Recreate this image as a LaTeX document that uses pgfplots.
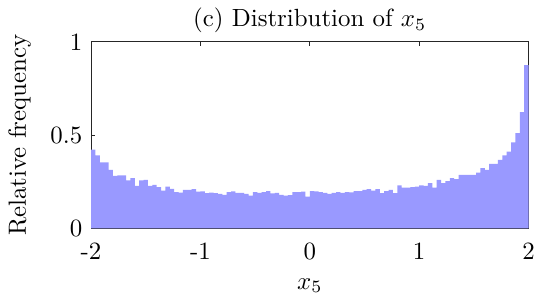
\documentclass[border=0pt]{standalone}
\usepackage{pgfplots}
\pgfplotsset{compat=1.18}
\definecolor{histfill}{RGB}{153,153,255}
\definecolor{axgray}{RGB}{38,38,38}

\begin{document}
\begin{tikzpicture}
\begin{axis}[
  scale only axis, width=176pt, height=75pt,
  xmin=-2, xmax=2, ymin=0, ymax=1,
  xtick={-2,-1,0,1,2}, xticklabels={-2,-1,0,1,2},
  ytick={0,0.5,1}, yticklabels={0,0.5,1},
  tick align=inside, major tick length=1.8pt,
  axis line style={axgray, line width=0.4pt}, tick style={axgray, line width=0.4pt},
  xticklabel style={yshift=-2.3pt},
  title={(c) Distribution of $x_5$},
  title style={yshift=-6pt},
  xlabel={$x_5$}, ylabel={Relative frequency},
  xlabel style={yshift=-0.6pt}, ylabel style={yshift=1pt},
]
\addplot[ybar interval, fill=histfill, draw=none] coordinates {
(-2.00,0.422) (-1.96,0.391) (-1.92,0.354) (-1.88,0.354) (-1.84,0.314)
(-1.80,0.282) (-1.76,0.284) (-1.72,0.284) (-1.68,0.257) (-1.64,0.269)
(-1.60,0.228) (-1.56,0.257) (-1.52,0.260) (-1.48,0.228) (-1.44,0.233)
(-1.40,0.221) (-1.36,0.203) (-1.32,0.224) (-1.28,0.212) (-1.24,0.194)
(-1.20,0.192) (-1.16,0.206) (-1.12,0.206) (-1.08,0.210) (-1.04,0.197)
(-1.00,0.199) (-0.96,0.189) (-0.92,0.192) (-0.88,0.189) (-0.84,0.185)
(-0.80,0.180) (-0.76,0.195) (-0.72,0.198) (-0.68,0.190) (-0.64,0.190)
(-0.60,0.185) (-0.56,0.175) (-0.52,0.195) (-0.48,0.190) (-0.44,0.195)
(-0.40,0.200) (-0.36,0.187) (-0.32,0.190) (-0.28,0.180) (-0.24,0.175)
(-0.20,0.178) (-0.16,0.195) (-0.12,0.195) (-0.08,0.197) (-0.04,0.170)
(0.00,0.200) (0.04,0.198) (0.08,0.195) (0.12,0.190) (0.16,0.185)
(0.20,0.190) (0.24,0.195) (0.28,0.190) (0.32,0.195) (0.36,0.193)
(0.40,0.200) (0.44,0.200) (0.48,0.206) (0.52,0.210) (0.56,0.203)
(0.60,0.210) (0.64,0.189) (0.68,0.200) (0.72,0.206) (0.76,0.189)
(0.80,0.230) (0.84,0.219) (0.88,0.219) (0.92,0.221) (0.96,0.224)
(1.00,0.230) (1.04,0.228) (1.08,0.242) (1.12,0.219) (1.16,0.260)
(1.20,0.242) (1.24,0.253) (1.28,0.269) (1.32,0.264) (1.36,0.287)
(1.40,0.287) (1.44,0.287) (1.48,0.287) (1.52,0.299) (1.56,0.323)
(1.60,0.314) (1.64,0.346) (1.68,0.346) (1.72,0.367) (1.76,0.391)
(1.80,0.412) (1.84,0.461) (1.88,0.511) (1.92,0.623) (1.96,0.875)
(2.00,0.875)
};
\end{axis}
\end{tikzpicture}
\end{document}
